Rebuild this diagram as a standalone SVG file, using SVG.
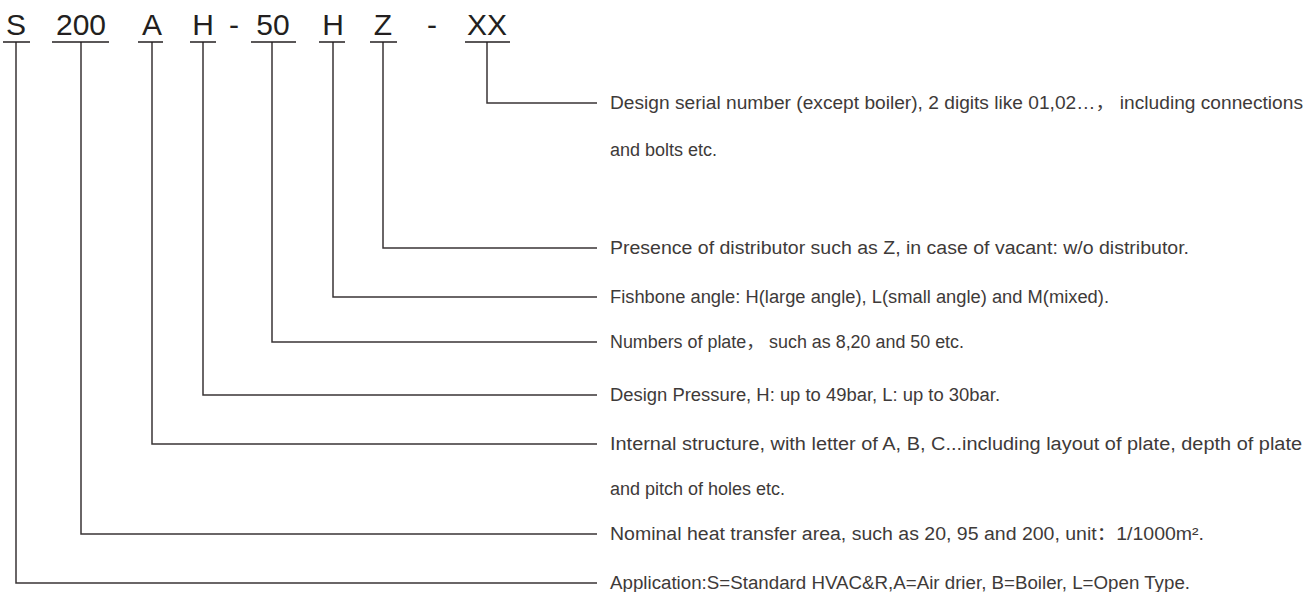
<svg xmlns="http://www.w3.org/2000/svg" width="1309" height="592" viewBox="0 0 1309 592">
<style>
.code{font-family:"Liberation Sans","Noto Sans CJK SC",sans-serif;font-size:30px;fill:#231f20;text-anchor:middle}
.desc{font-family:"Liberation Sans","Noto Sans CJK SC",sans-serif;font-size:18px;fill:#3e3a39}
.ul{stroke:#231f20;stroke-width:1.5;fill:none}
.conn{stroke:#3a3536;stroke-width:1.5;fill:none}
</style>
<rect width="1309" height="592" fill="#ffffff"/>
<g id="connectors">
<polyline class="conn" points="487,42 487,103 597,103"/>
<polyline class="conn" points="383,42 383,248 597,248"/>
<polyline class="conn" points="333,42 333,297 597,297"/>
<polyline class="conn" points="272,42 272,342 597,342"/>
<polyline class="conn" points="203,42 203,395 597,395"/>
<polyline class="conn" points="152,42 152,444 597,444"/>
<polyline class="conn" points="81,42 81,534 597,534"/>
<polyline class="conn" points="16,42 16,583 597,583"/>
</g>
<g id="dashes">
<text class="code" x="234" y="35">-</text>
<text class="code" x="432" y="35">-</text>
</g>
<g id="node-S">
<text class="code" x="16" y="35">S</text>
<line class="ul" x1="3" y1="42" x2="30" y2="42"/>
<text class="desc" x="610" y="589" textLength="580" lengthAdjust="spacingAndGlyphs">Application:S=Standard HVAC&amp;R,A=Air drier, B=Boiler, L=Open Type.</text>
</g>
<g id="node-200">
<text class="code" x="81" y="35">200</text>
<line class="ul" x1="52" y1="42" x2="109" y2="42"/>
<text class="desc" x="610" y="540" textLength="594" lengthAdjust="spacingAndGlyphs">Nominal heat transfer area, such as 20, 95 and 200, unit：1/1000m².</text>
</g>
<g id="node-A">
<text class="code" x="152" y="35">A</text>
<line class="ul" x1="138" y1="42" x2="163" y2="42"/>
<text class="desc" x="610" y="450" textLength="692" lengthAdjust="spacingAndGlyphs">Internal structure, with letter of A, B, C...including layout of plate, depth of plate</text>
<text class="desc" x="610" y="495">and pitch of holes etc.</text>
</g>
<g id="node-H-pressure">
<text class="code" x="203" y="35">H</text>
<line class="ul" x1="190" y1="42" x2="216" y2="42"/>
<text class="desc" x="610" y="401" textLength="390" lengthAdjust="spacingAndGlyphs">Design Pressure, H: up to 49bar, L: up to 30bar.</text>
</g>
<g id="node-50">
<text class="code" x="273" y="35">50</text>
<line class="ul" x1="251" y1="42" x2="296" y2="42"/>
<text class="desc" x="610" y="348" textLength="354" lengthAdjust="spacingAndGlyphs">Numbers of plate， such as 8,20 and 50 etc.</text>
</g>
<g id="node-H-angle">
<text class="code" x="333" y="35">H</text>
<line class="ul" x1="319" y1="42" x2="345" y2="42"/>
<text class="desc" x="610" y="303" textLength="499" lengthAdjust="spacingAndGlyphs">Fishbone angle: H(large angle), L(small angle) and M(mixed).</text>
</g>
<g id="node-Z">
<text class="code" x="383" y="35">Z</text>
<line class="ul" x1="370" y1="42" x2="397" y2="42"/>
<text class="desc" x="610" y="254" textLength="579" lengthAdjust="spacingAndGlyphs">Presence of distributor such as Z, in case of vacant: w/o distributor.</text>
</g>
<g id="node-XX">
<text class="code" x="487" y="35">XX</text>
<line class="ul" x1="465" y1="42" x2="510" y2="42"/>
<text class="desc" x="610" y="109" textLength="693" lengthAdjust="spacingAndGlyphs">Design serial number (except boiler), 2 digits like 01,02…， including connections</text>
<text class="desc" x="610" y="156">and bolts etc.</text>
</g>
</svg>
